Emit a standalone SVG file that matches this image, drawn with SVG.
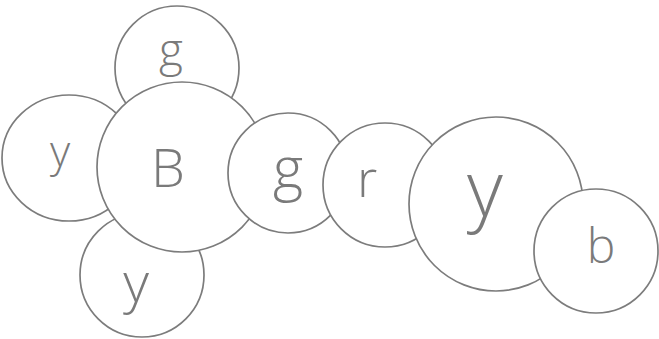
<svg xmlns="http://www.w3.org/2000/svg" width="659" height="339" viewBox="0 0 659 339">
<style>
.c{fill:#fff;stroke:#7c7c7c;stroke-width:1.7}
.t{font-family:"Open Sans","Liberation Sans",Arial,sans-serif;font-weight:300;fill:#7a7a7a;text-anchor:middle}
</style>
<rect width="659" height="339" fill="#fff"/>
<g id="g-top"><circle class="c" cx="177" cy="68" r="62"/><text class="t" x="171" y="66" font-size="46">g</text></g>
<g id="y-left"><ellipse class="c" cx="69" cy="158" rx="67" ry="63"/><text class="t" x="60" y="167" font-size="44">y</text></g>
<g id="y-bottom"><circle class="c" cx="142" cy="275" r="62"/><text class="t" x="136" y="302" font-size="56">y</text></g>
<g id="B"><circle class="c" cx="182" cy="167" r="85"/><text class="t" x="168" y="187" font-size="54">B</text></g>
<g id="g-mid"><circle class="c" cx="288" cy="173" r="60"/><text class="t" x="288" y="189" font-size="58">g</text></g>
<g id="r"><circle class="c" cx="385" cy="185" r="62"/><text class="t" x="367" y="197" font-size="52">r</text></g>
<g id="y-big"><circle class="c" cx="496" cy="204" r="87"/><text class="t" x="485" y="217" font-size="78">y</text></g>
<g id="b"><circle class="c" cx="596" cy="251" r="62"/><text class="t" x="601" y="263" font-size="48">b</text></g>
<g id="connectors"/>
</svg>
